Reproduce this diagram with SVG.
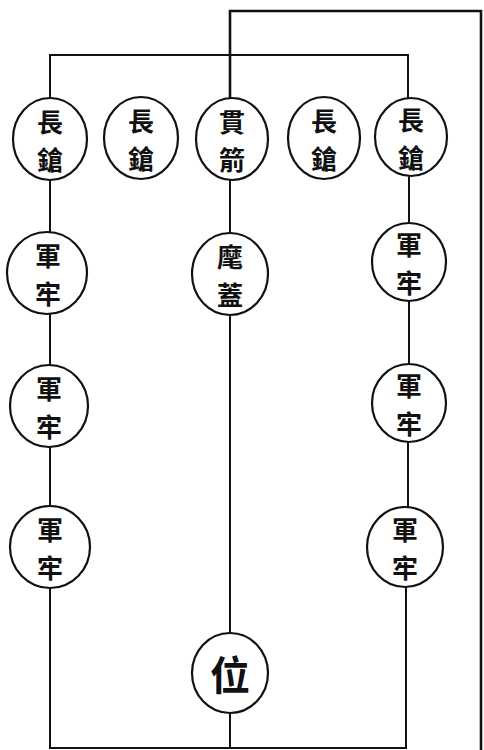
<svg xmlns="http://www.w3.org/2000/svg" width="484" height="750" viewBox="0 0 484 750">
<style>
.ln{fill:none;stroke:#111;stroke-width:2;stroke-linecap:square}
.ol{fill:none;stroke:#111;stroke-width:2.6}
.nd{fill:#fff;stroke:#111;stroke-width:2.2}
.tx{font-family:"Noto Sans CJK TC","Noto Sans CJK SC",sans-serif;font-size:26px;font-weight:700;fill:#111;text-anchor:middle;dominant-baseline:central}
</style>
<rect width="484" height="750" fill="#fff"/>
<g id="connectors">
<path class="ol" d="M230,98 V11 H481 V750"/>
<path class="ln" d="M50,98 V55 H408 V98"/>
<path class="ln" d="M50,180 V232 M50,314 V365 M50,447 V507 M50,588 V748 H406 V588"/>
<path class="ln" d="M230,180 V233 M230,315 V633 M230,713 V748"/>
<path class="ln" d="M409,176 V223 M409,301 V364 M408,442 V508"/>
</g>
<g id="n1"><ellipse class="nd" cx="50" cy="139" rx="37" ry="41"/><text class="tx" x="50" y="120">長</text><text class="tx" x="50" y="158">鎗</text></g>
<g id="n2"><ellipse class="nd" cx="141" cy="138" rx="37" ry="41"/><text class="tx" x="141" y="119">長</text><text class="tx" x="141" y="157">鎗</text></g>
<g id="n3"><ellipse class="nd" cx="232" cy="139" rx="36" ry="41"/><text class="tx" x="232" y="120">貫</text><text class="tx" x="232" y="158">箭</text></g>
<g id="n4"><ellipse class="nd" cx="324" cy="138" rx="36" ry="41"/><text class="tx" x="324" y="119">長</text><text class="tx" x="324" y="157">鎗</text></g>
<g id="n5"><ellipse class="nd" cx="411" cy="137" rx="36" ry="39"/><text class="tx" x="411" y="118">長</text><text class="tx" x="411" y="156">鎗</text></g>
<g id="n6"><ellipse class="nd" cx="47" cy="273" rx="40" ry="41"/><text class="tx" x="48" y="254">軍</text><text class="tx" x="48" y="292">牢</text></g>
<g id="n7"><ellipse class="nd" cx="230" cy="274" rx="38" ry="41"/><text class="tx" x="230" y="255">麾</text><text class="tx" x="230" y="293">蓋</text></g>
<g id="n8"><ellipse class="nd" cx="409" cy="262" rx="37" ry="39"/><text class="tx" x="409" y="243">軍</text><text class="tx" x="409" y="281">牢</text></g>
<g id="n9"><ellipse class="nd" cx="49" cy="406" rx="39" ry="41"/><text class="tx" x="49" y="387">軍</text><text class="tx" x="49" y="425">牢</text></g>
<g id="n10"><ellipse class="nd" cx="409" cy="403" rx="37" ry="39"/><text class="tx" x="409" y="384">軍</text><text class="tx" x="409" y="422">牢</text></g>
<g id="n11"><ellipse class="nd" cx="50" cy="547" rx="40" ry="41"/><text class="tx" x="50" y="528">軍</text><text class="tx" x="50" y="566">牢</text></g>
<g id="n12"><ellipse class="nd" cx="405" cy="547" rx="38" ry="40"/><text class="tx" x="405" y="528">軍</text><text class="tx" x="405" y="566">牢</text></g>
<g id="n13"><ellipse class="nd" cx="230" cy="673" rx="38" ry="40"/><text class="tx" x="230" y="673" style="font-size:40px">位</text></g>
</svg>
